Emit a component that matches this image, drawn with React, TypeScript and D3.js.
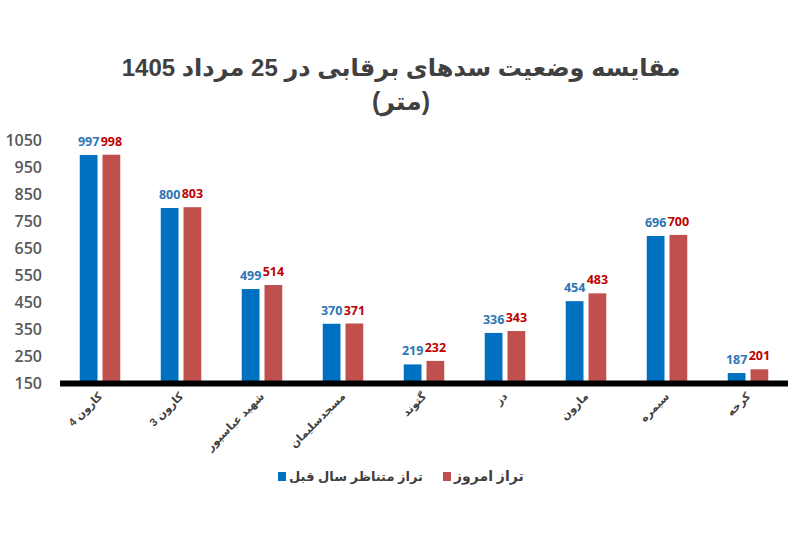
import React from 'react'
import * as d3 from 'd3'

// نام سدها
const categories = ['کارون 4', 'کارون 3', 'شهید عباسپور', 'مسجدسلیمان', 'گتوند', 'دز', 'مارون', 'سیمره', 'کرخه']
// تراز متناظر سال قبل
const lastYear = [997, 800, 499, 370, 219, 336, 454, 696, 187]
// تراز امروز
const today = [998, 803, 514, 371, 232, 343, 483, 700, 201]
const yTicks = [150, 250, 350, 450, 550, 650, 750, 850, 950, 1050]
const seriesNames = ['تراز متناظر سال قبل', 'تراز امروز']

const W = 800
const H = 538
const BLUE = '#0070C0'
const RED = '#C0504D'
const FONT = '"Liberation Sans", Arial, "DejaVu Sans", sans-serif'

export default function App() {
  const x = d3.scaleBand<string>()
    .domain(categories)
    .range([59.5, 788.5])
    .paddingInner(0.5)
    .paddingOuter(0.25)

  const x1 = d3.scaleBand<string>()
    .domain(['prev', 'now'])
    .range([0, x.bandwidth()])
    .paddingInner(0.22)

  const y = d3.scaleLinear().domain([150, 1050]).range([383, 140.7])

  const series = [
    { key: 'prev', values: lastYear, color: BLUE, labelColor: '#2E75B6' },
    { key: 'now', values: today, color: RED, labelColor: '#C00000' },
  ]

  return (
    <svg width={W} height={H} style={{ position: 'absolute', left: 0, top: 0, background: '#fff' }} fontFamily={FONT}>
      <rect width={W} height={H} fill="#fff" />

      {/* عنوان */}
      <text x={401} y={76} textAnchor="middle" fontSize={24} fontWeight="bold" fill="#404040">
        مقایسه وضعیت سدهای برقابی در 25 مرداد 1405
      </text>
      <text x={401} y={110} textAnchor="middle" fontSize={25} fontWeight="bold" fill="#404040">
        (متر)
      </text>

      {/* محور y */}
      {yTicks.map((t) => (
        <text key={t} x={42} y={y(t)} dy="0.35em" textAnchor="end" fontSize={16} fontWeight={600}
          fontFamily='"Open Sans", sans-serif' fill="#595959">
          {t}
        </text>
      ))}

      {/* ستون‌ها */}
      {series.map((s) => (
        <g key={s.key}>
          {categories.map((c, i) => {
            const bx = (x(c) || 0) + (x1(s.key) || 0)
            return (
              <g key={c}>
                <rect x={bx} y={y(s.values[i])} width={x1.bandwidth()} height={y(150) - y(s.values[i])} fill={s.color} />
                <text x={bx + x1.bandwidth() / 2} y={y(s.values[i]) - 9} textAnchor="middle" fontSize={12.5}
                  fontWeight="bold" fontFamily='"Open Sans", sans-serif' fill={s.labelColor}>
                  {s.values[i]}
                </text>
              </g>
            )
          })}
        </g>
      ))}

      {/* خط محور */}
      <line x1={60} x2={788} y1={383.5} y2={383.5} stroke="#000" strokeWidth={6} />

      {/* برچسب‌های محور x */}
      {categories.map((c) => {
        const cx = (x(c) || 0) + x.bandwidth() / 2 + 3
        return (
          <text key={c} transform={`translate(${cx},397) rotate(-45)`} textAnchor="end" fontSize={11}
            fontWeight="bold" fill="#404040">
            {c}
          </text>
        )
      })}

      {/* راهنما */}
      <rect x={278} y={472} width={8} height={9} fill={BLUE} />
      <text x={289} y={481} fontSize={13} fontWeight="bold" fill="#404040">{seriesNames[0]}</text>
      <rect x={443} y={472} width={8} height={9} fill={RED} />
      <text x={454} y={481} fontSize={14} fontWeight="bold" fill="#404040">{seriesNames[1]}</text>
    </svg>
  )
}
